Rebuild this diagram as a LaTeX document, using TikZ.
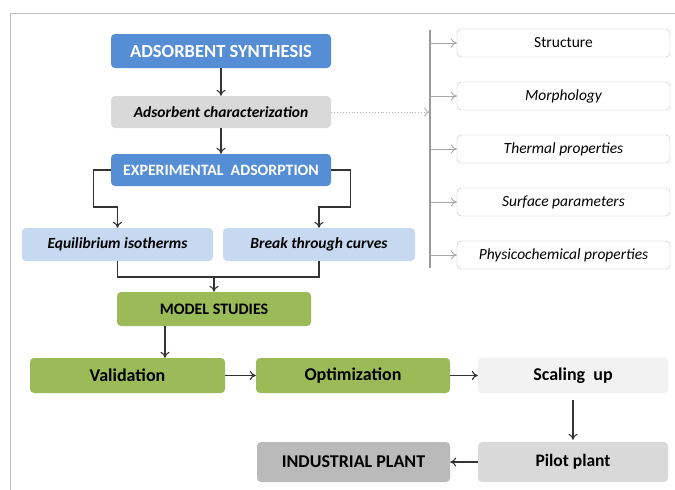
\documentclass[tikz,border=0pt]{standalone}
\usepackage{fontspec}
\setmainfont{Carlito}
\usepackage{tikz}
\usetikzlibrary{arrows}
\usetikzlibrary{arrows.meta}
\usetikzlibrary{calc}
\usetikzlibrary{positioning}

\definecolor{synblue}{RGB}{85,142,213}
\definecolor{paleblue}{RGB}{198,217,241}
\definecolor{modgreen}{RGB}{155,187,89}
\definecolor{midgray}{RGB}{217,217,217}
\definecolor{pale}{RGB}{242,242,242}
\definecolor{dark}{RGB}{186,186,186}
\definecolor{frame}{RGB}{190,190,190}

\tikzset{
  box/.style={rounded corners=4pt, inner sep=0pt, font=\bfseries},
  bluebox/.style={box, fill=synblue, text=white},
  lightbox/.style={box, fill=paleblue},
  greenbox/.style={box, fill=modgreen},
  propbox/.style={rounded corners=4pt, draw=frame, fill=white, inner sep=0pt,
    minimum width=213, minimum height=28, font=\itshape\fontsize{15.5}{17}\selectfont},
  flow/.style={-{To[length=6pt, width=9pt]}, line width=1.1pt, black!80},
  thin flow/.style={-{To[length=6pt, width=9pt]}, line width=0.9pt, black!35},
}

\begin{document}
\begin{tikzpicture}[x=1pt, y=-1pt] % Adsorption workflow

      \useasboundingbox (0,0) rectangle (675,490);
      \draw [frame, line width=1pt] (10,490) -- (10,13) -- (675,13);

      \node [bluebox, minimum width=220, minimum height=34,
        font=\bfseries\fontsize{18.5}{20}\selectfont] (synth) at (221,51)
        {ADSORBENT SYNTHESIS};
      \node [box, fill=midgray, minimum width=220, minimum height=32,
        font=\bfseries\itshape\fontsize{15.5}{17}\selectfont] (charac) at (221,112)
        {Adsorbent characterization};
      \node [bluebox, minimum width=220, minimum height=32,
        font=\bfseries\fontsize{15.8}{17}\selectfont] (exper) at (221,170)
        {EXPERIMENTAL\ \ ADSORPTION};

      \node [lightbox, minimum width=191, minimum height=33,
        font=\bfseries\itshape\fontsize{15.5}{17}\selectfont] (equil) at (117.5,244.5)
        {Equilibrium isotherms};
      \node [lightbox, minimum width=192, minimum height=33,
        font=\bfseries\itshape\fontsize{15.5}{17}\selectfont] (brkthr) at (319,244.5)
        {Break through curves};

      \node [greenbox, minimum width=194, minimum height=34,
        font=\bfseries\fontsize{16}{18}\selectfont] (model) at (214,309)
        {MODEL STUDIES};

      \node [greenbox, minimum width=195, minimum height=35,
        font=\bfseries\fontsize{18}{20}\selectfont] (valid) at (127.5,375.5)
        {Validation};
      \node [greenbox, minimum width=194, minimum height=35,
        font=\bfseries\fontsize{18}{20}\selectfont] (optim) at (353,375.5)
        {Optimization};
      \node [box, fill=pale, draw=black!6, minimum width=190, minimum height=35,
        font=\bfseries\fontsize{18}{20}\selectfont] (scale) at (573,375.5)
        {Scaling\ \ up};
      \node [box, fill=midgray, minimum width=190, minimum height=40,
        font=\bfseries\fontsize{17.5}{20}\selectfont] (pilot) at (573,462)
        {Pilot plant};
      \node [box, fill=dark, minimum width=193, minimum height=40,
        font=\bfseries\fontsize{18}{20}\selectfont] (indust) at (353.5,462)
        {INDUSTRIAL PLANT};

      % properties on the right
      \coordinate (bartop) at (430,30);
      \coordinate (barbot) at (430,268);
      \draw [black!40, line width=2pt] (bartop) -- (barbot);
      \foreach \name/\y/\txt in {struc/43/{\upshape Structure}, morph/96/Morphology,
          therm/149/Thermal properties, surf/202/Surface parameters,
          physc/255/Physicochemical properties} {
        \node [propbox] (\name) at (563.5,\y) {\txt};
        \draw [thin flow] (\name.west -| bartop) -- (\name.west);
      }
      \draw [thin flow, dotted, black!30] (charac.east) -- (charac.east -| bartop);

      \draw [flow] (synth) -- (charac);
      \draw [flow] (charac) -- (exper);
      \draw [flow] (exper.west) -| ++(-17,37) -| (equil.north);
      \draw [flow] (exper.east) -| ++(19,37) -| (brkthr.north);

      \coordinate (join) at (214,277);
      \draw [line width=1.1pt, black!80] (equil.south) |- (join) -| (brkthr.south);
      \draw [flow] (join) -- (model.north);

      \draw [flow] ([xshift=-49]model.south) -- ([xshift=-49]model.south |- valid.north);
      \draw [flow] (valid) -- (optim);
      \draw [flow] (optim) -- (scale);
      \draw [flow, shorten <=7pt, shorten >=2pt] (scale) -- (pilot);
      \draw [flow] (pilot) -- (indust);

    \end{tikzpicture}
\end{document}
